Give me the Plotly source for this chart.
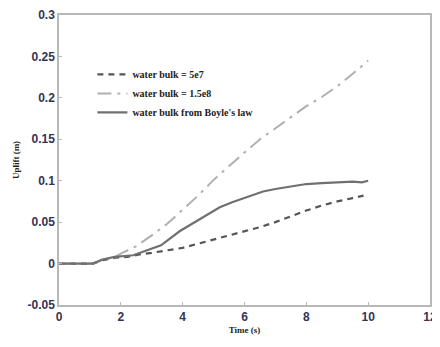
import plotly.graph_objects as go

t_5e7 = [0, 1.1, 1.4, 1.8, 2.2, 2.6, 3.0, 3.5, 4.0, 4.5, 5.0, 5.5, 6.0, 6.5, 7.0, 7.5, 8.0, 8.5, 9.0, 9.5, 9.85]
u_5e7 = [0, 0, 0.004, 0.007, 0.008, 0.011, 0.013, 0.016, 0.019, 0.024, 0.029, 0.034, 0.039, 0.044, 0.05, 0.057, 0.064, 0.07, 0.075, 0.079, 0.082]

t_15e8 = [0, 1.1, 1.4, 1.8, 2.0, 2.5, 3.0, 3.5, 4.0, 4.5, 5.0, 5.5, 6.0, 6.5, 7.0, 7.5, 8.0, 8.5, 9.0, 9.5, 10.0]
u_15e8 = [0, 0, 0.004, 0.008, 0.012, 0.021, 0.034, 0.048, 0.065, 0.082, 0.101, 0.118, 0.134, 0.15, 0.163, 0.176, 0.19, 0.201, 0.214, 0.229, 0.245]

t_boyle = [0, 1.1, 1.4, 1.8, 2.4, 2.85, 3.3, 3.9, 4.6, 5.2, 5.6, 6.0, 6.6, 7.0, 7.5, 8.0, 8.5, 9.0, 9.5, 9.8, 10.0]
u_boyle = [0, 0, 0.005, 0.008, 0.01, 0.016, 0.022, 0.039, 0.055, 0.068, 0.074, 0.079, 0.087, 0.09, 0.093, 0.096, 0.097, 0.098, 0.099, 0.098, 0.1]

x_ticks = [0, 2, 4, 6, 8, 10, 12]
y_ticks = [-0.05, 0, 0.05, 0.1, 0.15, 0.2, 0.25, 0.3]
y_labels = ["-0.05", "0", "0.05", "0.1", "0.15", "0.2", "0.25", "0.3"]

fig = go.Figure()
fig.add_trace(go.Scatter(x=t_5e7, y=u_5e7, mode="lines", name="water bulk = 5e7",
                         line=dict(color="#555555", width=2.2, dash="6px,5px")))
fig.add_trace(go.Scatter(x=t_15e8, y=u_15e8, mode="lines", name="water bulk = 1.5e8",
                         line=dict(color="#b0b0b0", width=2, dash="14px,6px,3px,6px")))
fig.add_trace(go.Scatter(x=t_boyle, y=u_boyle, mode="lines", name="water bulk from Boyle's law",
                         line=dict(color="#707070", width=2.2)))

axis_common = dict(showline=True, linecolor="#b8b8b8", linewidth=1.5, mirror=True,
                   showgrid=False, zeroline=False, ticks="inside", ticklen=3,
                   tickcolor="#b8b8b8", automargin=False, ticklabeloverflow="allow",
                   tickfont=dict(family="Arial, Liberation Sans", size=12, color="#333355",
                                 weight="bold"))

fig.update_layout(
    width=432, height=339,
    margin=dict(l=51, r=10, t=7, b=42),
    paper_bgcolor="white", plot_bgcolor="white",
    xaxis=dict(range=[0, 12], tickvals=x_ticks, ticktext=[str(v) for v in x_ticks],
               title=dict(text="<b>Time (s)</b>", standoff=4,
                          font=dict(family="Liberation Serif, Times New Roman", size=9, color="#222")),
               **axis_common),
    yaxis=dict(range=[-0.05, 0.3], tickvals=y_ticks, ticktext=y_labels,
               title=dict(text="<b>Uplift (m)</b>", standoff=6,
                          font=dict(family="Liberation Serif, Times New Roman", size=9, color="#222")),
               **axis_common),
    legend=dict(x=0.09, y=0.845, xanchor="left", yanchor="top", bgcolor="rgba(0,0,0,0)",
                font=dict(family="Liberation Serif, Times New Roman", size=10, color="#222",
                          weight="bold"),
                itemwidth=30, tracegroupgap=0),
    showlegend=True,
)

fig.write_html("out.html")
